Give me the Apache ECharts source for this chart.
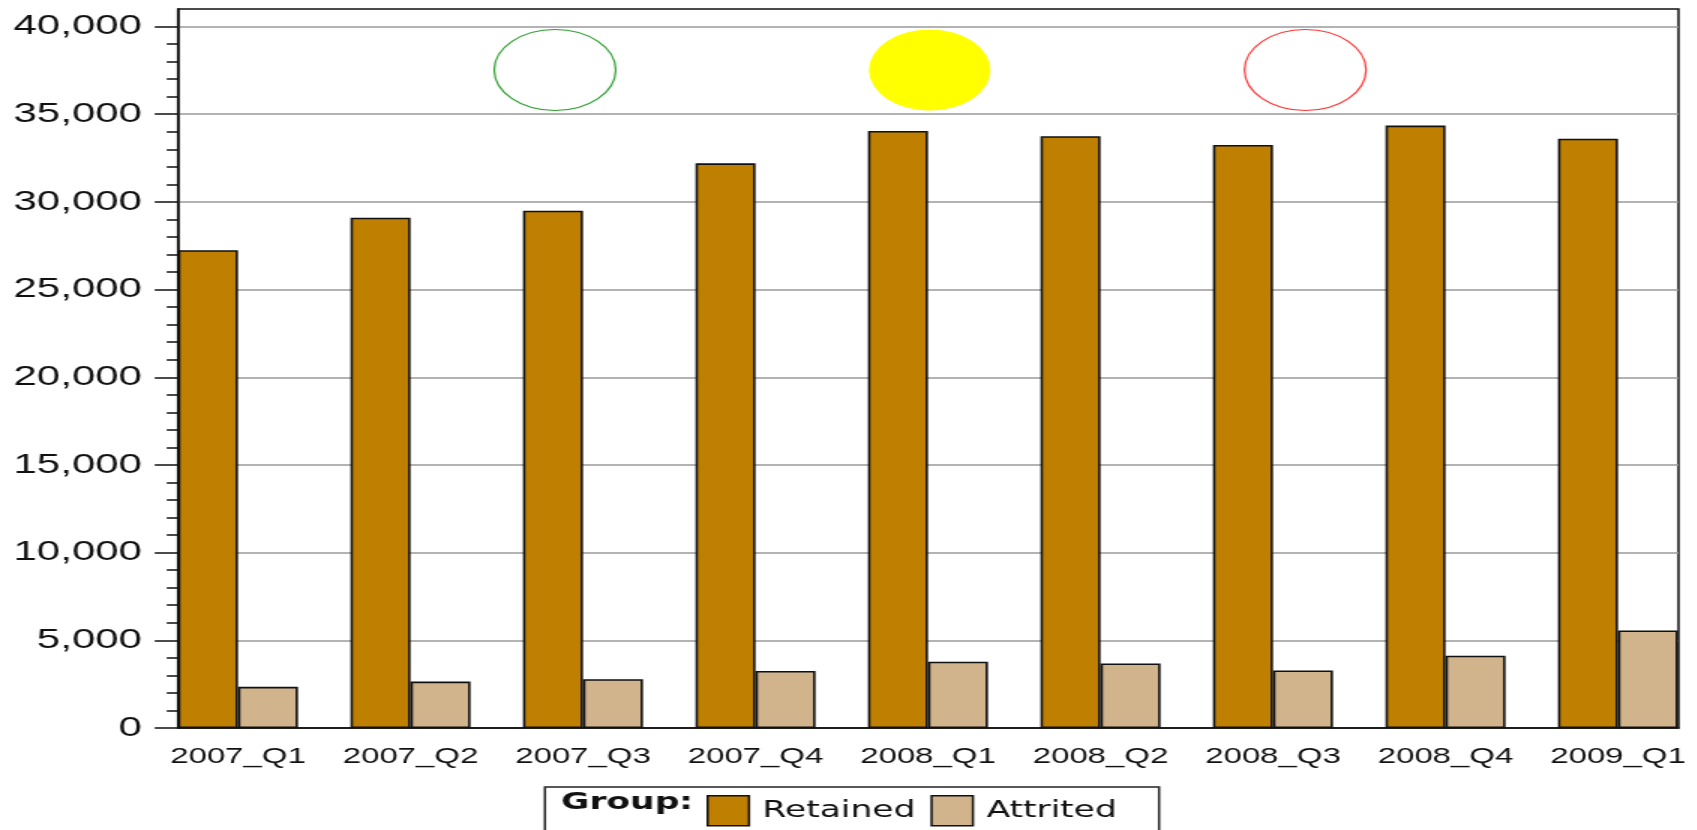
<!DOCTYPE html>
<html>
<head>
<meta charset="utf-8">
<title>Retained vs Attrited by Quarter</title>
<script src="https://cdn.jsdelivr.net/npm/echarts@6/dist/echarts.min.js"></script>
<style>
  html, body { margin: 0; padding: 0; background: #fff; overflow: hidden; }
  /* The chart is laid out on a narrower canvas and widened horizontally. */
  #chart { width: 1131.333px; height: 830px; transform: scaleX(1.5); transform-origin: 0 0; }
</style>
</head>
<body>
<div id="chart"></div>
<script>
// Quarterly counts per group
const categories = ['2007_Q1', '2007_Q2', '2007_Q3', '2007_Q4', '2008_Q1', '2008_Q2', '2008_Q3', '2008_Q4', '2009_Q1'];
const retained = [27250, 29100, 29500, 32200, 34050, 33750, 33250, 34350, 33600];
const attrited = [2350, 2650, 2780, 3250, 3780, 3680, 3280, 4120, 5560];
const groupNames = ['Retained', 'Attrited'];

// Value axis ticks
const yMajorTicks = [0, 5000, 10000, 15000, 20000, 25000, 30000, 35000, 40000];
const yMinorTicks = [];
for (let i = 0; i < yMajorTicks.length - 1; i++) {
  for (let k = 1; k < 5; k++) yMinorTicks.push(yMajorTicks[i] + k * 1000);
}
const yMax = 41000;

const chart = echarts.init(document.getElementById('chart'), null, { renderer: 'canvas' });

const ink = '#111';
const axisFont = 'Liberation Sans';

const option = {
  animation: false,
  backgroundColor: '#fff',
  textStyle: { fontFamily: axisFont },
  grid: [
    // frame: gridlines, value axis, borders
    { left: 118.667, right: 12, top: 9, bottom: 102, show: true, borderColor: ink, borderWidth: 1.5, backgroundColor: '#fff' },
    // bar placement
    { left: 158.667, right: 52.333, top: 9, bottom: 102 }
  ],
  xAxis: [
    {
      gridIndex: 0, type: 'value', min: 0, max: 1,
      axisLine: { show: true, onZero: false, lineStyle: { color: ink, width: 1.5 } },
      axisTick: { show: false }, axisLabel: { show: false }, splitLine: { show: false }
    },
    {
      gridIndex: 1, type: 'category', data: categories, boundaryGap: false,
      axisLine: { show: false }, axisTick: { show: false }, splitLine: { show: false },
      axisLabel: { interval: 0, hideOverlap: false, margin: 18, fontSize: 22, color: ink, fontFamily: axisFont }
    }
  ],
  yAxis: [
    {
      gridIndex: 0, type: 'value', min: 0, max: yMax, interval: 5000,
      axisLine: { show: true, onZero: false, lineStyle: { color: ink, width: 1.5 } },
      axisTick: { show: true, length: 15.5, customValues: yMajorTicks, lineStyle: { color: ink, width: 1.5 } },
      axisLabel: {
        customValues: yMajorTicks, margin: 24,
        fontSize: 28, color: ink, fontFamily: axisFont,
        formatter: v => v.toLocaleString('en-US')
      },
      splitLine: { show: true, showMinLine: false, lineStyle: { color: '#9a9a9a', width: 1.5 } }
    },
    {
      gridIndex: 0, type: 'value', position: 'left', min: 0, max: yMax, interval: 1000,
      axisLine: { show: false, onZero: false },
      axisTick: { show: true, length: 7.5, customValues: yMinorTicks, lineStyle: { color: ink, width: 1.5 } },
      axisLabel: { show: false }, splitLine: { show: false }
    },
    { gridIndex: 1, type: 'value', min: 0, max: yMax, show: false }
  ],
  legend: {
    data: groupNames,
    left: 471, top: 795, padding: 0,
    icon: 'rect', itemWidth: 27.6, itemHeight: 30, itemGap: 10,
    selectedMode: false,
    itemStyle: { borderColor: ink, borderWidth: 1.5 },
    textStyle: { fontFamily: 'DejaVu Sans', fontSize: 23, color: ink, padding: [0, 0, 14, 4] }
  },
  graphic: [
    {
      type: 'rect', x: 363.3, y: 787, z: 1,
      shape: { x: 0, y: 0, width: 409.4, height: 70 },
      style: { fill: '#fff', stroke: '#222', lineWidth: 1.5 }
    },
    {
      type: 'text', x: 374, y: 803, z: 2,
      style: { text: 'Group:', fontFamily: 'DejaVu Sans', fontWeight: 'bold', fontSize: 23, fill: ink, align: 'left', verticalAlign: 'middle' }
    },
    // status lights
    { type: 'circle', x: 370, y: 70, z: 3, shape: { r: 40.5 }, style: { fill: 'none', stroke: '#2f9f2f', lineWidth: 1.2 } },
    { type: 'circle', x: 619.8, y: 70, z: 3, shape: { r: 40.5 }, style: { fill: '#ffff00', stroke: 'none' } },
    { type: 'circle', x: 870.2, y: 70, z: 3, shape: { r: 40.5 }, style: { fill: 'none', stroke: '#ff3333', lineWidth: 1.2 } }
  ],
  series: [
    {
      name: groupNames[0], type: 'bar', xAxisIndex: 1, yAxisIndex: 2,
      data: retained, barWidth: 40, barGap: '0%', clip: false,
      itemStyle: { color: '#BF7F00', borderColor: ink, borderWidth: 1.6 }
    },
    {
      name: groupNames[1], type: 'bar', xAxisIndex: 1, yAxisIndex: 2,
      data: attrited, barWidth: 40, barGap: '0%', clip: false,
      itemStyle: { color: '#D2B48C', borderColor: ink, borderWidth: 1.6 }
    }
  ]
};

chart.setOption(option);
</script>
</body>
</html>
